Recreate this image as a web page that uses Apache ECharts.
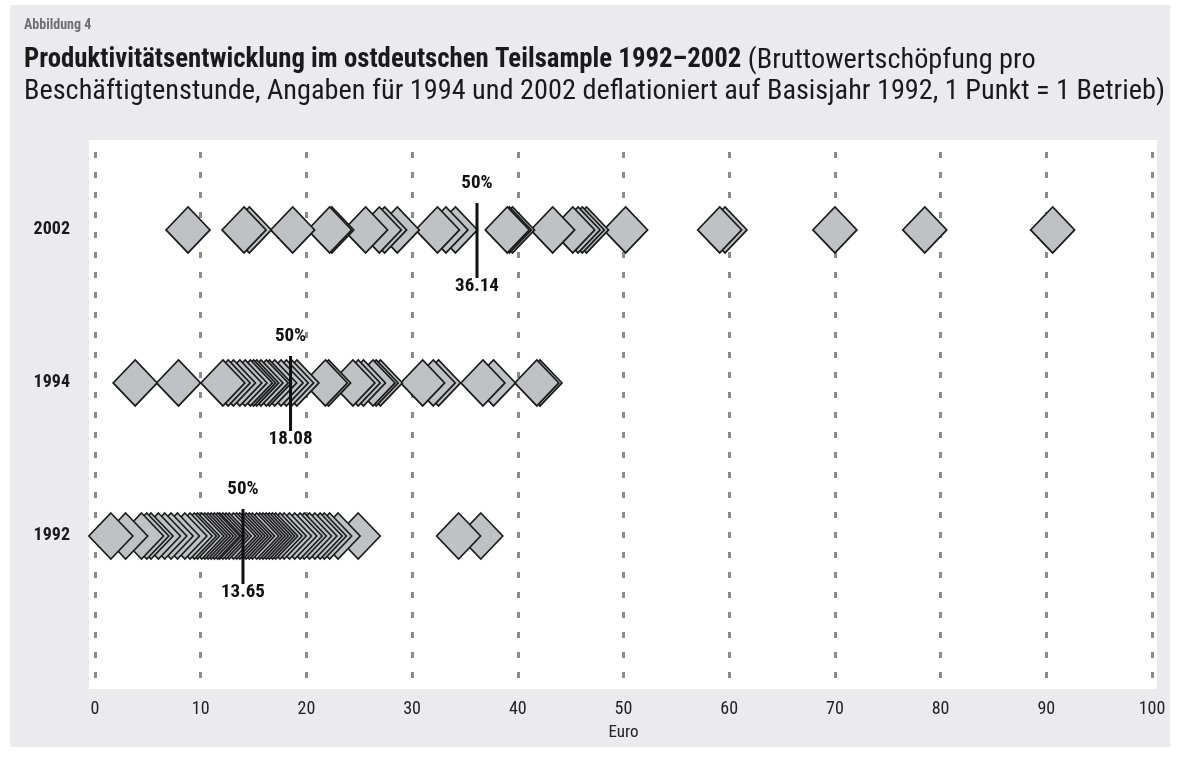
<!DOCTYPE html>
<html>
<head>
<meta charset="utf-8">
<script src="https://cdn.jsdelivr.net/npm/echarts@6/dist/echarts.min.js"></script>
<style>
html,body{margin:0;padding:0;background:#fff;}
#c{position:absolute;left:0;top:0;width:1181px;height:758px;}
</style>
</head>
<body>
<div id="c"></div>
<script>
// ---- data ----
const years = ['1992', '1994', '2002'];
const xTicks = [0, 10, 20, 30, 40, 50, 60, 70, 80, 90, 100];
const values1992 = [1.5, 2.9, 4.4, 4.9, 5.3, 6.0, 6.6, 7.2, 7.8, 8.5, 9.0, 9.4, 9.7, 10.1, 10.4, 10.7, 11.0, 11.3, 11.6, 11.8, 12.1, 12.4, 12.7, 13.1, 13.4, 13.7,
  14.0, 14.3, 14.6, 14.9, 15.3, 15.6, 15.9, 16.2, 16.5, 16.8, 17.1, 17.5, 17.9, 18.4, 18.9, 19.4, 19.8, 20.3, 20.8, 21.3, 21.7, 22.2, 23.0, 24.9, 34.4, 36.5];
const values1994 = [3.8, 7.9, 12.1, 12.6, 13.1, 13.7, 14.2, 14.7, 15.0, 15.3, 15.7, 16.2, 16.5, 17.0, 17.6, 18.1, 18.6, 19.1,
  21.8, 22.1, 24.4, 24.9, 25.4, 26.3, 26.6, 27.0, 31.0, 32.0, 32.5, 36.7, 37.7, 41.8, 42.1];
const values2002 = [8.8, 14.1, 14.6, 18.7, 22.2, 22.4, 25.6, 26.9, 27.4, 28.6, 32.4, 33.2, 34.1, 39.0, 39.2, 39.5, 43.3, 45.2, 45.7, 46.1, 46.5, 50.2, 59.1, 59.6, 70.0, 78.5, 90.6];
const medianPos = [14.0, 18.5, 36.14];
const medianLabels = ['13.65', '18.08', '36.14'];
const medianTop = '50%';
const xName = 'Euro';
const figLabel = 'Abbildung 4';
const titleBold = 'Produktivitätsentwicklung im ostdeutschen Teilsample 1992–2002';
const titleRest1 = ' (Bruttowertschöpfung pro';
const titleRest2 = 'Beschäftigtenstunde, Angaben für 1994 und 2002 deflationiert auf Basisjahr 1992, 1 Punkt = 1 Betrieb)';

// ---- build ----
const FONT = "'Roboto Condensed', 'DejaVu Sans Condensed', sans-serif";
const allSeries = [values1992, values1994, values2002];
const scatterData = [];
allSeries.forEach((arr, i) => {
  arr.slice().sort((a, b) => b - a).forEach(v => scatterData.push([v, i + 1]));
});
const medianData = medianPos.map((v, i) => [v, i + 1, i]);

const chart = echarts.init(document.getElementById('c'), null, {renderer: 'canvas'});
chart.setOption({
  animation: false,
  backgroundColor: '#ffffff',
  textStyle: {fontFamily: FONT},
  graphic: [
    {type: 'rect', z: -2, shape: {x: 10, y: 5, width: 1160, height: 742}, style: {fill: '#ebebed'}, silent: true},
    {type: 'rect', z: -1, shape: {x: 89, y: 140, width: 1068, height: 549}, style: {fill: '#ffffff'}, silent: true}
  ],
  title: [
    {text: figLabel, left: 19, top: 13,
     textStyle: {fontFamily: FONT, fontSize: 14, fontWeight: 'bold', color: '#707070'}},
    {text: '{b|' + titleBold + '}{n|' + titleRest1 + '}\n{n|' + titleRest2 + '}',
     left: 19, top: 40,
     textStyle: {
       fontFamily: FONT, fontSize: 27, fontWeight: 'normal', lineHeight: 31, color: '#1a1a1a',
       rich: {
         b: {fontFamily: FONT, fontSize: 26.8, fontWeight: 'bold', color: '#1a1a1a', lineHeight: 31},
         n: {fontFamily: FONT, fontSize: 28.3, fontWeight: 'normal', color: '#1a1a1a', lineHeight: 31}
       }
     }}
  ],
  grid: {left: 95, right: 29, top: 140, bottom: 69, containLabel: false},
  xAxis: {
    type: 'value', min: xTicks[0], max: xTicks[xTicks.length - 1], interval: 10,
    name: xName, nameLocation: 'middle', nameGap: 35,
    nameTextStyle: {fontFamily: FONT, fontSize: 17, color: '#222'},
    axisLine: {show: false}, axisTick: {show: false},
    axisLabel: {fontFamily: FONT, fontSize: 18, color: '#222', margin: 11},
    splitLine: {show: true, showMinLine: true, showMaxLine: true,
      lineStyle: {color: '#8c8c8c', width: 3, type: [6, 14], dashOffset: 8}}
  },
  yAxis: {
    type: 'value', min: 0, max: 3.588, interval: 1,
    axisLine: {show: false}, axisTick: {show: false}, splitLine: {show: false},
    axisLabel: {
      fontFamily: FONT, fontSize: 18, fontWeight: 'bold', color: '#1a1a1a', margin: 25,
      formatter: v => (v >= 1 && v <= years.length && Math.abs(v - Math.round(v)) < 1e-6) ? years[Math.round(v) - 1] : ''
    }
  },
  series: [
    {
      type: 'scatter', symbol: 'diamond', symbolSize: [44, 46],
      data: scatterData,
      itemStyle: {color: '#c0c1c5', borderColor: '#1c1c1c', borderWidth: 1.7, opacity: 1},
      emphasis: {disabled: true}, z: 2
    },
    {
      type: 'custom', z: 5, data: medianData,
      renderItem: (params, api) => {
        const p = api.coord([api.value(0), api.value(1)]);
        const idx = api.value(2);
        return {type: 'group', children: [
          {type: 'line', shape: {x1: p[0], y1: p[1] - 27, x2: p[0], y2: p[1] + 48},
           style: {stroke: '#111', lineWidth: 3}},
          {type: 'text', x: p[0], y: p[1] - 37,
           style: {text: medianTop, fill: '#111', font: 'bold 19px ' + FONT, align: 'center', verticalAlign: 'bottom'}},
          {type: 'text', x: p[0], y: p[1] + 47,
           style: {text: medianLabels[idx], fill: '#111', font: 'bold 19px ' + FONT, align: 'center', verticalAlign: 'top'}}
        ]};
      }
    }
  ]
});
</script>
</body>
</html>
